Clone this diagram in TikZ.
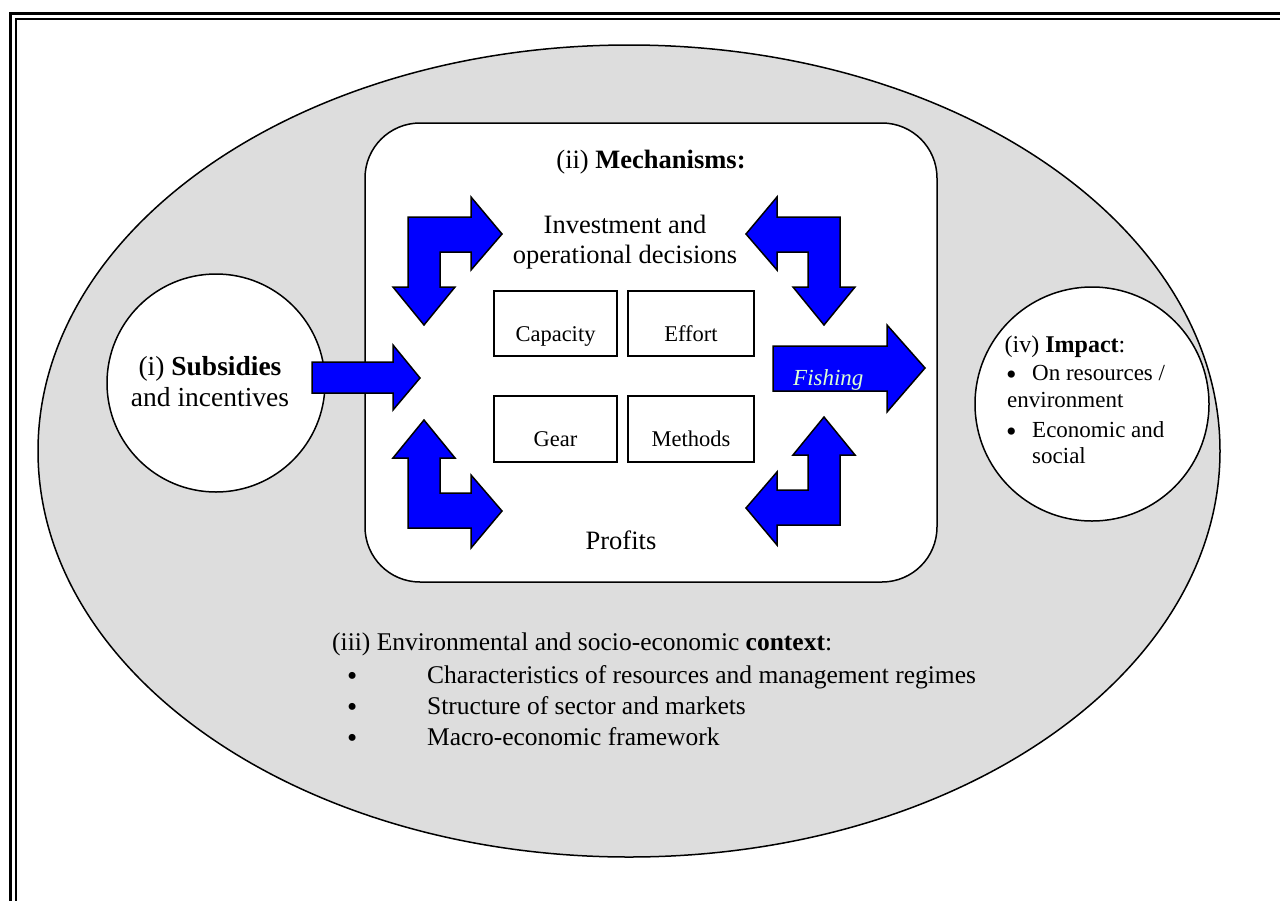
\documentclass[tikz,border=0pt]{standalone}
\usepackage{fontspec}
\setmainfont{Liberation Serif}
\begin{document}
\begin{tikzpicture}[x=1pt,y=-1pt,
  blockarrow/.style={fill={rgb,255:red,0;green,0;blue,255},draw=black,line width=1.5pt,line join=miter},
  txt/.style={inner sep=0pt,anchor=base,font=\fontsize{26.5}{30}\selectfont},
  boxtxt/.style={inner sep=0pt,anchor=base,font=\fontsize{22.5}{26}\selectfont},
  smalltxt/.style={inner sep=0pt,anchor=base west,font=\fontsize{23}{27}\selectfont},
  bigbullet/.style={inner sep=0pt,anchor=base west,font=\fontsize{29}{29}\selectfont},
  ctxtxt/.style={inner sep=0pt,anchor=base west,font=\fontsize{25.5}{30}\selectfont},
  itembox/.style={draw=black,line width=1.2pt,fill=white}]
\useasboundingbox (0,0) rectangle (1280,900);
% frame
\draw[line width=3pt] (10.5,910) -- (10.5,13.5) -- (1290,13.5);
\draw[line width=2pt] (15.7,910) -- (15.7,19) -- (1290,19);
% context ellipse
\draw[fill={rgb,255:red,221;green,221;blue,221},line width=1.5pt] (629,451) ellipse [x radius=591, y radius=406];
% circles
\draw[fill=white,line width=1.5pt] (216,383) circle [radius=109];
\draw[fill=white,line width=1.5pt] (1092,404) circle [radius=117];
% mechanisms box
\draw[fill=white,line width=1.5pt,rounded corners=55pt] (365,123) rectangle (937,582);
% item boxes
\draw[itembox] (494,291) rectangle (617,356);
\draw[itembox] (628,291) rectangle (754,356);
\draw[itembox] (494,396) rectangle (617,462);
\draw[itembox] (628,396) rectangle (754,462);
% bent arrows
\newcommand{\bentarrowshape}{(408,217) -- (471,217) -- (471,197) -- (502,234) -- (471,270) -- (471,252) -- (440,252) -- (440,287) -- (455,287) -- (424,325) -- (393,287) -- (408,287) -- cycle}
\draw[blockarrow] \bentarrowshape;
\begin{scope}[xshift=1248pt,xscale=-1]
\draw[blockarrow] \bentarrowshape;
\end{scope}
\begin{scope}[yshift=-745pt,yscale=-1]
\draw[blockarrow] \bentarrowshape;
\end{scope}
\begin{scope}[xshift=1248pt,xscale=-1,yshift=-742pt,yscale=-1]
\draw[blockarrow] \bentarrowshape;
\end{scope}
% straight arrows
\draw[blockarrow] (312,362) -- (393,362) -- (393,345) -- (420,378) -- (393,410) -- (393,393) -- (312,393) -- cycle;
\draw[blockarrow] (773,346) -- (887,346) -- (887,325) -- (925,368) -- (887,412) -- (887,391) -- (773,391) -- cycle;
% texts
\node[txt] (mech) at (651,168) {(ii) \textbf{Mechanisms:}};
\node[txt] (inv1) at (625,233) {Investment and};
\node[txt] (inv2) at (625,263) {operational decisions};
\node[boxtxt] (cap) at (555.5,341) {Capacity};
\node[boxtxt] (eff) at (691,341) {Effort};
\node[boxtxt] (gear) at (555.5,446) {Gear};
\node[boxtxt] (meth) at (691,446) {Methods};
\node[txt] (prof) at (621,549) {Profits};
\node[inner sep=0pt,anchor=base west,font=\fontsize{23}{27}\selectfont\itshape,
  text={rgb,255:red,220;green,255;blue,210}] (fish) at (793,385) {Fishing};
\node[txt,font=\fontsize{27.5}{31}\selectfont] (sub1) at (210,375) {(i) \textbf{Subsidies}};
\node[txt,font=\fontsize{27.5}{31}\selectfont] (sub2) at (210,406) {and incentives};
\node[txt,font=\fontsize{24}{28}\selectfont] (imp) at (1065,352) {(iv) \textbf{Impact}:};
\node[bigbullet,font=\fontsize{30}{30}\selectfont] (ib1) at (1006,384) {\textbullet};
\node[smalltxt] (i1) at (1032,380) {On resources /};
\node[smalltxt] (i1b) at (1007,407) {environment};
\node[bigbullet,font=\fontsize{30}{30}\selectfont] (ib2) at (1006,441) {\textbullet};
\node[smalltxt] (i2) at (1032,437) {Economic and};
\node[smalltxt] (i2b) at (1032,463) {social};
\node[ctxtxt] (ctx) at (332,650) {(iii) Environmental and socio-economic \textbf{context}:};
\node[bigbullet] (cb1) at (347,685) {\textbullet};
\node[ctxtxt] (c1) at (427,683) {Characteristics of resources and management regimes};
\node[bigbullet] (cb2) at (347,716) {\textbullet};
\node[ctxtxt] (c2) at (427,714) {Structure of sector and markets};
\node[bigbullet] (cb3) at (347,747) {\textbullet};
\node[ctxtxt] (c3) at (427,745) {Macro-economic framework};
\end{tikzpicture}
\end{document}
